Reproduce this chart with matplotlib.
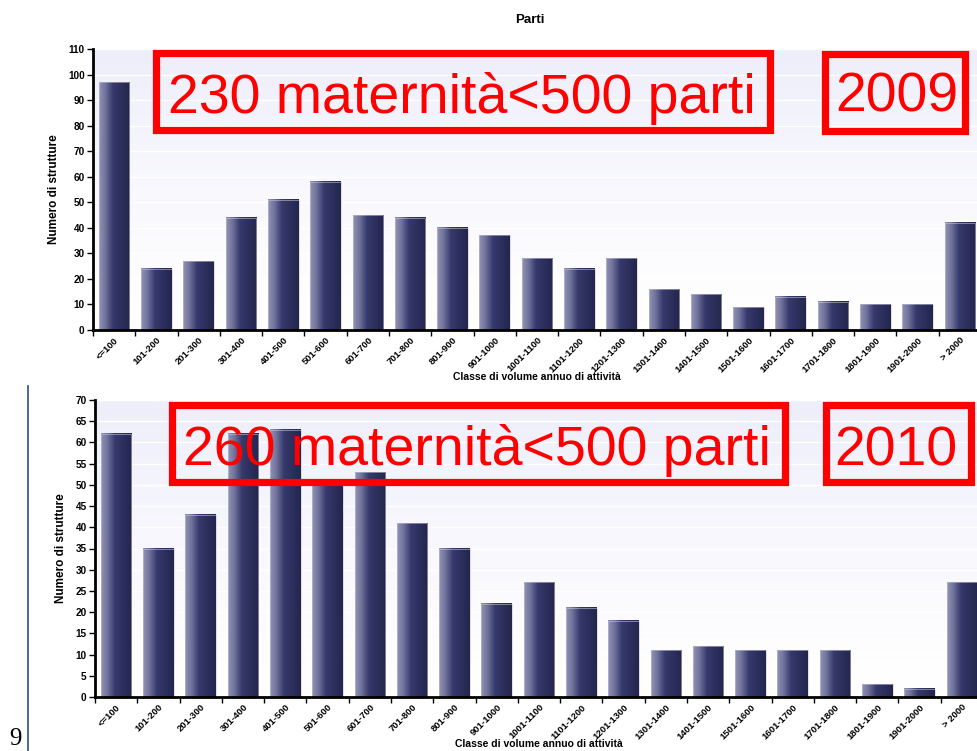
import matplotlib.pyplot as plt
import numpy as np
from matplotlib.colors import LinearSegmentedColormap
from matplotlib.patches import Rectangle

# Data
classes = ["<=100", "101-200", "201-300", "301-400", "401-500", "501-600",
           "601-700", "701-800", "801-900", "901-1000", "1001-1100",
           "1101-1200", "1201-1300", "1301-1400", "1401-1500", "1501-1600",
           "1601-1700", "1701-1800", "1801-1900", "1901-2000", "> 2000"]
parti_2009 = [97, 24, 27, 44, 51, 58, 45, 44, 40, 37, 28, 24, 28, 16, 14, 9,
              13, 11, 10, 10, 42]
parti_2010 = [62, 35, 43, 62, 63, 51, 53, 41, 35, 22, 27, 21, 18, 11, 12, 11,
              11, 11, 3, 2, 27]

W, H = 977, 751
fig = plt.figure(figsize=(W / 100, H / 100), dpi=100)

bar_cmap = LinearSegmentedColormap.from_list(
    "bar", [(0, "#9092b4"), (0.2, "#71739c"), (0.45, "#36396c"), (1, "#24264e")])
bg_cmap = LinearSegmentedColormap.from_list("bg", ["#ffffff", "#eeeefb"])


def px(x0, y0, x1, y1):
    # pixel box (top-left origin) -> figure fraction [l, b, w, h]
    return [x0 / W, 1 - y1 / H, (x1 - x0) / W, (y1 - y0) / H]


def draw_panel(ax, values, ymax, ystep):
    n = len(values)
    x = np.arange(n)
    bw = 0.72

    # gradient background
    g = np.linspace(0, 1, 256) ** 1.3
    ax.imshow(g[:, None], extent=[0, 1, 0, 1], transform=ax.transAxes,
              cmap=bg_cmap, origin="lower", aspect="auto", zorder=0)
    for yv in np.arange(ystep, ymax + 0.1, ystep):
        ax.axhline(yv, color="white", lw=1, zorder=1)

    bars = ax.bar(x, values, width=bw, color="none", edgecolor="#c4c5d6",
                  lw=0.4, zorder=4)
    grad = np.linspace(0, 1, 64)[None, :]
    for b in bars:
        ax.imshow(grad, extent=[b.get_x(), b.get_x() + b.get_width(), 0,
                                b.get_height()],
                  cmap=bar_cmap, aspect="auto", zorder=3)
    ax.set_xlim(-0.5, n - 0.5)
    ax.set_ylim(0, ymax)

    for s in ["top", "right"]:
        ax.spines[s].set_visible(False)
    for s in ["left", "bottom"]:
        ax.spines[s].set_linewidth(2)
        ax.spines[s].set_zorder(6)

    ax.set_yticks(np.arange(0, ymax + 0.1, ystep))
    ax.tick_params(axis="y", length=4, width=1, pad=2)
    for lab in ax.get_yticklabels():
        lab.set_fontsize(7.2)
        lab.set_fontweight("bold")
        lab.set_family("Liberation Sans")

    ax.set_xticks(x)
    ax.set_xticks(np.arange(-0.5, n, 1.0), minor=True)
    ax.tick_params(axis="x", which="major", length=0, pad=4)
    ax.tick_params(axis="x", which="minor", length=4, width=1)
    ax.set_xticklabels(classes, rotation=45, ha="right", va="top",
                       rotation_mode="anchor", fontsize=6.8,
                       fontweight="bold", family="Liberation Sans")

    ax.set_ylabel("Numero di strutture", fontsize=8.5, fontweight="bold",
                  family=["Liberation Sans Narrow", "Liberation Sans"],
                  labelpad=6)
    ax.set_xlabel("Classe di volume annuo di attività", fontsize=7.5,
                  fontweight="bold", family="Liberation Sans", labelpad=-1.5)


ax1 = fig.add_axes(px(93, 49, 981, 330))
draw_panel(ax1, parti_2009, 110, 10)
ax2 = fig.add_axes(px(95, 400, 983, 697))
draw_panel(ax2, parti_2010, 70, 5)

fig.text(530 / W, 1 - 20 / H, "Parti", ha="center", va="center",
         fontsize=9.5, fontweight="bold", family="Liberation Sans")

# red annotation boxes
boxes = [
    ((156, 53, 770, 130), "230 maternità<500 parti", 462, 113),
    ((825, 54, 965, 131), "2009", 897, 112),
    ((172, 405, 785, 482), "260 maternità<500 parti", 477, 465),
    ((826, 405, 971, 482), "2010", 896, 465),
]
for (x0, y0, x1, y1), txt, tx, ty in boxes:
    fig.patches.append(Rectangle((x0 / W, 1 - y1 / H), (x1 - x0) / W,
                                 (y1 - y0) / H, transform=fig.transFigure,
                                 fill=False, edgecolor="#ff0000", lw=5.2,
                                 zorder=10))
    fig.text(tx / W, 1 - ty / H, txt, ha="center", va="baseline",
             fontsize=40, color="#ff0000", family="Liberation Sans",
             zorder=11)

# slide page number and margin line
fig.add_artist(plt.Line2D([28 / W, 28 / W], [0, 1 - 386 / H],
                          transform=fig.transFigure, color="#3b5b98", lw=1.3))
fig.text(15 / W, 1 - 745 / H, "9", ha="center", va="baseline",
         fontsize=18, family="Liberation Serif")

fig.savefig("out.png", dpi=100)
